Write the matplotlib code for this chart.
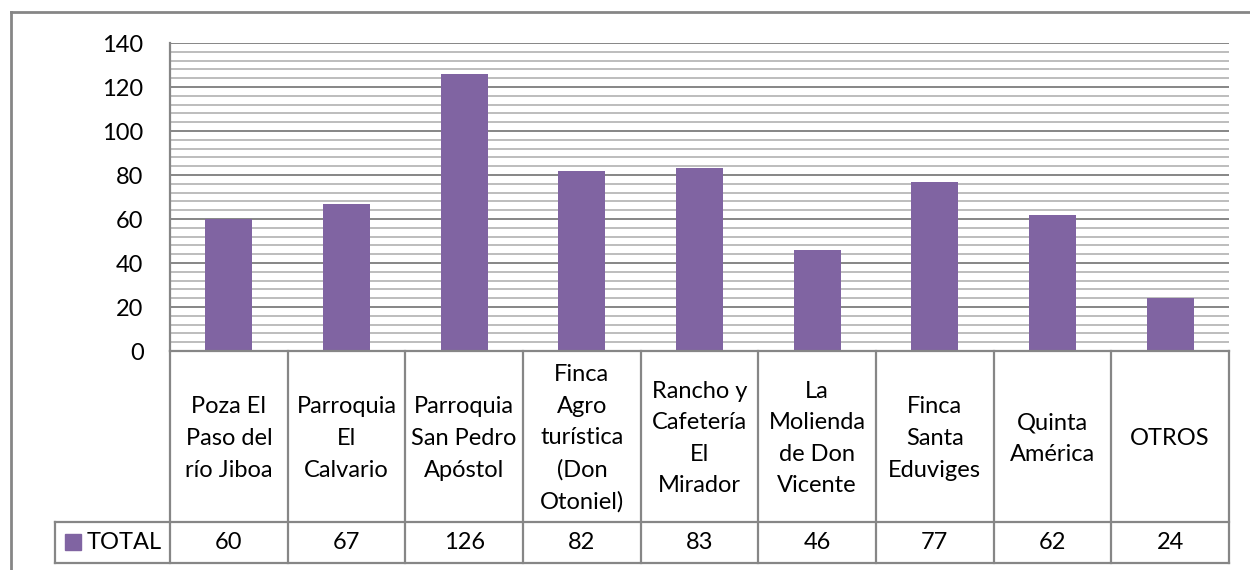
import matplotlib
matplotlib.use("Agg")
import matplotlib.pyplot as plt
from matplotlib.patches import Rectangle
from matplotlib.lines import Line2D

categories = ["Poza El\nPaso del\nrío Jiboa", "Parroquia\nEl\nCalvario",
              "Parroquia\nSan Pedro\nApóstol", "Finca\nAgro\nturística\n(Don\nOtoniel)",
              "Rancho y\nCafetería\nEl\nMirador", "La\nMolienda\nde Don\nVicente",
              "Finca\nSanta\nEduviges", "Quinta\nAmérica", "OTROS"]
values = [60, 67, 126, 82, 83, 46, 77, 62, 24]
series_name = "TOTAL"
yticks = [0, 20, 40, 60, 80, 100, 120, 140]

BAR = "#8064A2"
MAJ = "#868686"
MIN = "#BDBDBD"
FONT = "Lato"
FS = 17

W, H = 1250, 570
fig = plt.figure(figsize=(W / 100, H / 100), dpi=100)
fig.patch.set_facecolor("white")

def fx(px):
    return px / W

def fy(py):
    return 1 - py / H

L, R, T, B = 170, 1229, 43, 351
TB = 563
ROW = 522

ax = fig.add_axes([fx(L), fy(B), fx(R - L), (B - T) / H])
n = len(values)
ax.set_xlim(-0.5, n - 0.5)
ax.set_ylim(0, 140)
for v in range(0, 141, 4):
    if v % 20 == 0:
        continue
    ax.axhline(v, color=MIN, lw=1.4, zorder=1)
for v in yticks[1:]:
    ax.axhline(v, color=MAJ, lw=1.4, zorder=1)
ax.bar(range(n), values, width=0.4, color=BAR, zorder=2)
for s in ax.spines.values():
    s.set_visible(False)
ax.set_xticks([])
ax.set_yticks(yticks)
ax.set_yticklabels([str(t) for t in yticks], fontsize=FS, family=FONT)
ax.tick_params(axis="y", length=0, pad=19)

# table axes
tax = fig.add_axes([fx(L), fy(TB), fx(R - L), (TB - B) / H])
tax.set_xlim(-0.5, n - 0.5)
tax.set_ylim(TB - B, 0)
tax.axis("off")
rowy = ROW - B
bot = TB - B
col_w_px = (R - L) / n
leg_left = -0.5 - (L - 55) / col_w_px
lk = dict(color=MAJ, lw=1.6, clip_on=False)
tax.add_line(Line2D([-0.5, n - 0.5], [0, 0], **lk))
tax.add_line(Line2D([leg_left, n - 0.5], [rowy, rowy], **lk))
tax.add_line(Line2D([leg_left, n - 0.5], [bot, bot], **lk))
tax.add_line(Line2D([leg_left, leg_left], [rowy, bot], **lk))
for i in range(n + 1):
    tax.add_line(Line2D([i - 0.5, i - 0.5], [0, bot], **lk))
for i, (c, v) in enumerate(zip(categories, values)):
    tax.text(i, rowy / 2 + 2, c, ha="center", va="center", fontsize=FS,
             family=FONT, linespacing=1.62)
    tax.text(i, (rowy + bot) / 2, str(v), ha="center", va="center",
             fontsize=FS, family=FONT)

# left axis line across plot
fig.add_artist(Line2D([fx(L), fx(L)], [fy(T), fy(B)], color=MAJ, lw=1.6))

# legend key
fig.add_artist(Rectangle((fx(65), fy(550)), fx(16), 16 / H, color=BAR))
fig.text(fx(87), fy((ROW + TB) / 2), series_name, ha="left", va="center",
         fontsize=FS, family=FONT)

# outer chart border
fig.add_artist(Line2D([fx(11), fx(11)], [fy(12), 0], color=MAJ, lw=2))
fig.add_artist(Line2D([fx(11), 1], [fy(12), fy(12)], color=MAJ, lw=2))

fig.savefig("out.png", dpi=100)
